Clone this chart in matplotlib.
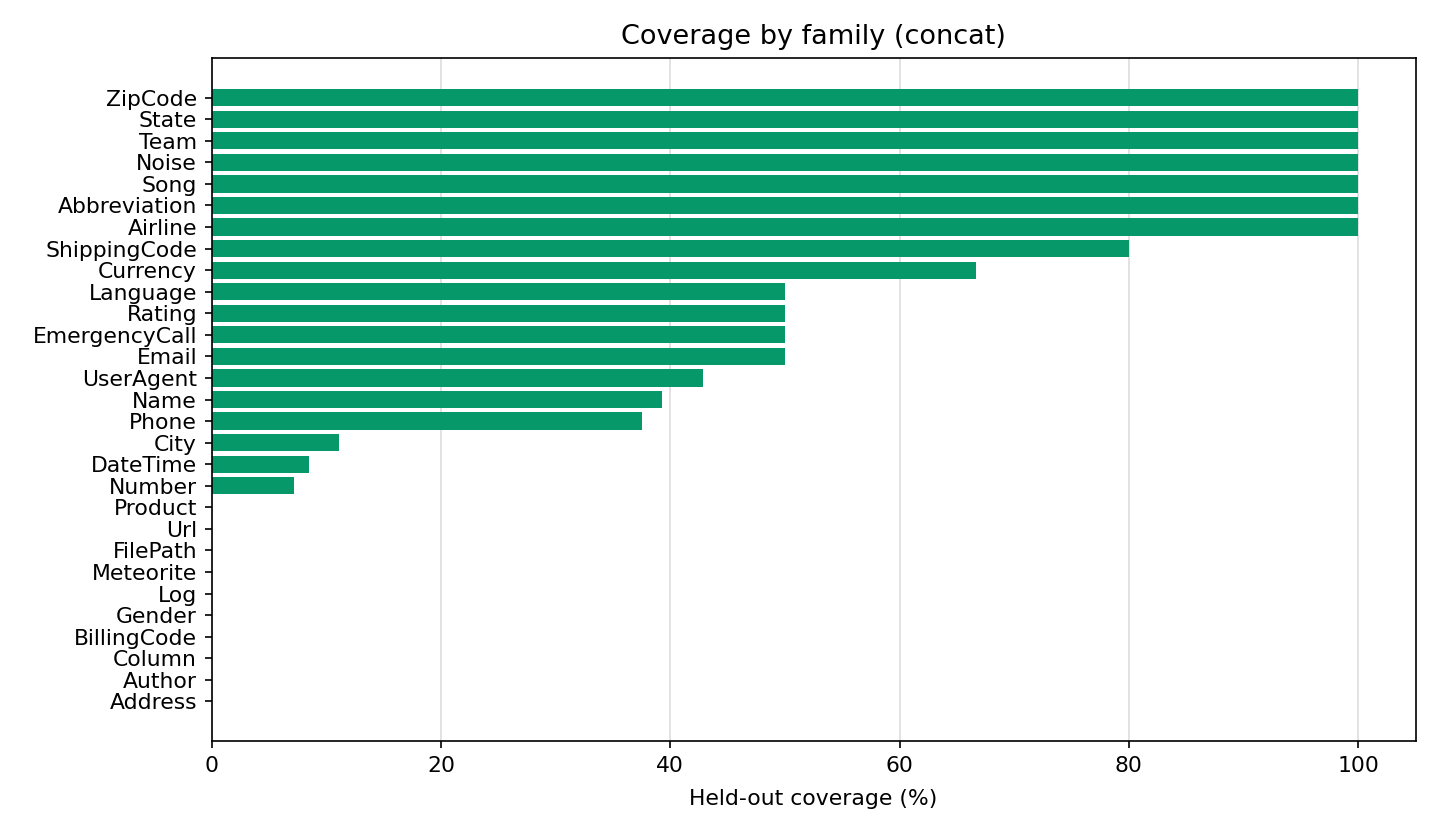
import numpy as np
import matplotlib.pyplot as plt

families = ['ZipCode', 'State', 'Team', 'Noise', 'Song', 'Abbreviation', 'Airline',
            'ShippingCode', 'Currency', 'Language', 'Rating', 'EmergencyCall', 'Email',
            'UserAgent', 'Name', 'Phone', 'City', 'DateTime', 'Number', 'Product', 'Url',
            'FilePath', 'Meteorite', 'Log', 'Gender', 'BillingCode', 'Column', 'Author',
            'Address']
coverage = [100, 100, 100, 100, 100, 100, 100,
            80, 66.67, 50, 50, 50, 50,
            42.86, 39.29, 37.5, 11.11, 8.47, 7.14, 0, 0,
            0, 0, 0, 0, 0, 0, 0,
            0]

fig, ax = plt.subplots(figsize=(9.6, 835 / 150), dpi=150)
fig.subplots_adjust(left=0.147, right=0.983, top=0.9305, bottom=0.1126)

y = np.arange(len(families))
ax.barh(y, coverage, color='#069869', zorder=2)
ax.set_yticks(y)
ax.set_yticklabels(families)
ax.tick_params(labelsize=10.5)
ax.invert_yaxis()
ax.set_xlim(0, 105)
ax.grid(axis='x', color='#dddddd', linewidth=0.8, zorder=0)
ax.set_xlabel('Held-out coverage (%)', fontsize=10.5, labelpad=6.5)
ax.set_title('Coverage by family (concat)', fontsize=13, pad=6.5)

plt.savefig('out.png', dpi=150)
